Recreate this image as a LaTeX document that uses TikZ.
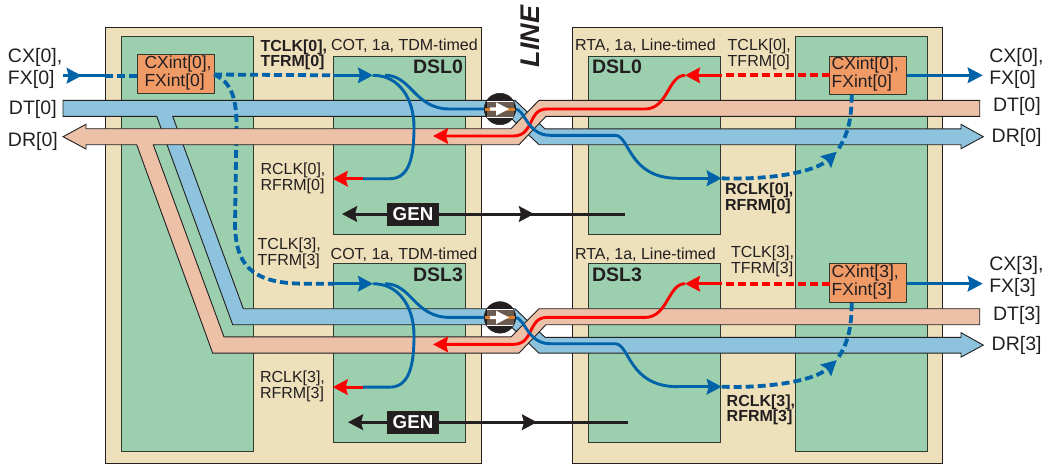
\documentclass[tikz,border=0pt]{standalone}
\usepackage{fontspec}
\setmainfont{Liberation Sans}
\usetikzlibrary{arrows.meta}
\definecolor{tanc}{HTML}{EEE0BA}
\definecolor{greenc}{HTML}{9BCFAE}
\definecolor{bluec}{HTML}{8DC3DC}
\definecolor{salmonc}{HTML}{EDC1A8}
\definecolor{orangec}{HTML}{F09A66}
\definecolor{wireb}{HTML}{0062A8}
\definecolor{inkc}{HTML}{231F20}
\definecolor{edgec}{HTML}{2F3A30}
\definecolor{hubband}{HTML}{6A5A50}
\definecolor{hubline}{HTML}{D97F2B}
\tikzset{
  x=1pt,y=-1pt,
  panel/.style={draw=inkc,line width=1pt,fill=tanc,inner sep=0pt,outer sep=0pt},
  greenbox/.style={draw=edgec,line width=0.9pt,fill=greenc,inner sep=0pt,outer sep=0pt},
  cxbox/.style={draw=edgec,line width=1pt,fill=orangec,inner sep=0pt,outer sep=0pt,minimum width=77pt,minimum height=38.5pt},
  genbox/.style={fill=inkc,text=white,inner sep=0pt,outer sep=0pt,minimum width=52pt,minimum height=23pt,font=\fontsize{18.7}{20}\selectfont\bfseries},
  band/.style={draw=inkc,line width=0.9pt,line join=miter},
  tipb/.tip={Stealth[length=15pt,width=15.5pt,inset=2pt]},
  wireblue/.style={draw=wireb,line width=2.9pt},
  wirered/.style={draw=red,line width=2.9pt},
  wireblack/.style={draw=inkc,line width=3pt},
  dashblue/.style={wireblue,line width=3.8pt,dash pattern=on 8pt off 4pt},
  dashred/.style={wirered,line width=4pt,dash pattern=on 8pt off 4pt},
  lab/.style={text=inkc,inner sep=0pt,outer sep=0pt,align=left,anchor=west},
  labL/.style={lab,font=\fontsize{19.5}{22}\selectfont},
  labM/.style={lab,font=\fontsize{17.5}{18}\selectfont},
  labS/.style={lab,font=\fontsize{16}{16}\selectfont},
  labB/.style={lab,font=\fontsize{16}{15.5}\selectfont\bfseries},
  dsl/.style={lab,font=\fontsize{19.5}{20}\selectfont\bfseries},
  hub/.style={circle,fill=inkc,draw=inkc,line width=0.5pt,minimum size=31.5pt,inner sep=0pt,outer sep=0pt},
}
\newcommand{\linkrow}[2]{%
\begin{scope}[shift={(0,#1)}]
  \coordinate (tx#2) at (373,75.3);
  \coordinate (ta#2) at (333,75.3);
  \coordinate (rr#2) at (363,178.7);
  \coordinate (rt#2) at (332.7,178.7);
  \coordinate (hubc#2) at (500,109);
  \coordinate (lr#2) at (433,136);
  \coordinate (rx#2) at (685,75.3);
  \coordinate (rd#2) at (722,75.3);
  \coordinate (ck#2) at (721.7,178.3);
  \coordinate (mg#2) at (836.7,151.7);
  \coordinate (cb#2) at (851.7,94.7);
  % red wires
  \draw[wirered,-{tipb}] (rx#2) .. controls (668,75.3) and (668,109) .. (645,109) -- (547,109)
     .. controls (527,109) and (535,136) .. (513,136) -- (lr#2);
  \draw[wirered,-{tipb}] (rd#2) -- (rx#2);
  \draw[dashred] (cxR#2.west |- rd#2) -- (rd#2);
  \draw[wirered,-{tipb}] (rr#2) -- (rt#2);
  % blue wires
  \draw[wireblue,-{tipb}] (ta#2) -- (tx#2);
  \draw[wireblue] (tx#2) ++(12,0) .. controls (412,75.3) and (414,109) .. (450,109) -- (hubc#2);
  \draw[wireblue] (tx#2) .. controls (400,75.3) and (414,100) .. (414,127) .. controls (414,155) and (410,178.7) .. (390,178.7) -- (rr#2);
  \draw[wireblue] (hubc#2) -- (515,109) .. controls (525,109) and (527,135.3) .. (550,135.3) -- (615,135.3)
     .. controls (630,135.3) and (628,178.3) .. (678,178.3);
  \draw[wireblue,-{tipb}] (678,178.3) -- (ck#2);
  \draw[dashblue,-{tipb}] (ck#2) .. controls (770,180) and (815,172) .. (mg#2);
  \draw[dashblue] (cb#2) .. controls (851.5,120) and (848,135) .. (mg#2);
  \draw[wireblue,-{tipb}] (cxR#2.east |- tx#2) -- (982.7,75.3);
  % hub
  \node[hub] (hub#2) at (hubc#2) {};
  \fill[hubband] (486.5,101) rectangle (513.5,117);
  \draw[white,line width=0.7pt] (487,101) -- (513,101) (487,117) -- (513,117);
  \draw[draw=hubline,line width=3pt] (485,109) -- (515,109);
  \fill[white] (490,107.4) -- (496,107.4) -- (496,102.3) -- (509,109) -- (496,115.7) -- (496,110.6) -- (490,110.6) -- cycle;
\end{scope}}
\begin{document}
\begin{tikzpicture}
\useasboundingbox (0,0) rectangle (1049,464);
% panels
\node[panel,minimum width=376pt,minimum height=436pt] (outerL) at (293,245) {};
\node[panel,minimum width=369.6pt,minimum height=436pt] (outerR) at (757.5,245) {};
\node[greenbox,minimum width=132pt,minimum height=415pt] (greenL) at (187.5,243.5) {};
\node[greenbox,minimum width=132.3pt,minimum height=415pt] (greenR) at (861.15,243.5) {};
\node[greenbox,minimum width=132pt,minimum height=177.5pt] (dslL0) at (399,145.25) {};
\node[greenbox,minimum width=132pt,minimum height=178.7pt] (dslL3) at (399,352.65) {};
\node[greenbox,minimum width=132pt,minimum height=177.5pt] (dslR0) at (654.3,145.25) {};
\node[greenbox,minimum width=132pt,minimum height=178.7pt] (dslR3) at (654.3,352.65) {};
% blue bus
\draw[band,fill=bluec] (63,100.3) -- (515,100.3) -- (545,128.9) -- (961,128.9) -- (961,124.3) -- (983.3,136.7) -- (961,148.7) -- (961,144.7) -- (539,144.7) -- (509,116.3)
  -- (172.7,116.3) -- (243.3,308.7) -- (515,308.7) -- (545,337.3) -- (961,337.3) -- (961,332.7) -- (983.3,345.1) -- (961,357.1) -- (961,353.1) -- (539,353.1) -- (509,324.7)
  -- (232.7,324.7) -- (156.7,116.3) -- (63,116.3) -- cycle;
% CX nodes
\node[cxbox] (cxL0) at (175.5,73.85) {};
\node[cxbox] (cxR0) at (868,75.35) {};
\node[cxbox] (cxR3) at (868,283) {};
% dashed branch under the salmon bus
\coordinate (ta3) at (333,283.7);
\coordinate (cxo) at (214,74.5);
\draw[dashblue] (cxo) .. controls (232,82) and (236.5,100) .. (236.5,125) -- (235,225) .. controls (236,262) and (248,283.7) .. (305,283.7) -- (ta3);
% salmon bus
\draw[band,fill=salmonc] (63,136.7) -- (86,124.3) -- (86,128.7) -- (511,128.7) -- (539,100.3) -- (979.7,100.3) -- (979.7,116.3) -- (546,116.3) -- (519,144.7)
  -- (153.3,144.7) -- (224,336.9) -- (511,336.9) -- (539,308.7) -- (979.7,308.7) -- (979.7,324.7) -- (546,324.7) -- (519,353.1)
  -- (212.7,353.1) -- (136.7,144.7) -- (86,144.7) -- (86,149) -- cycle;
% CX[0] input and TCLK[0]
\coordinate (cxin) at (63,75.7);
\coordinate (cxsol) at (105,75.7);
\coordinate (cxtip) at (81.7,75.7);
\draw[wireblue] (cxin) -- (cxsol);
\draw[wireblue,-{tipb}] (cxin) -- (cxtip);
\draw[dashblue] (cxsol) -- (cxL0.west |- cxsol);
\draw[dashblue] (cxo) -- (333,75.3);
% row wires
\linkrow{0}{0}
\linkrow{208.4}{3}
% GEN
\node[genbox] (gen0) at (413,214) {GEN};
\node[genbox] (gen3) at (413,422.2) {GEN};
\coordinate (g0l) at (342,214); \coordinate (g0r) at (625,214); \coordinate (g0m) at (534,214);
\coordinate (g3l) at (348,422.2); \coordinate (g3r) at (628,422.2); \coordinate (g3m) at (537,422.2);
\draw[wireblack,-{tipb}] (gen0.west) -- (g0l);
\draw[wireblack] (gen0.east) -- (g0r);
\draw[wireblack,-{tipb}] (gen0.east) -- (g0m);
\draw[wireblack,-{tipb}] (gen3.west) -- (g3l);
\draw[wireblack] (gen3.east) -- (g3r);
\draw[wireblack,-{tipb}] (gen3.east) -- (g3m);
% labels
\node[labL] (tCXL) at (8,68) {CX[0],\\FX[0]};
\node[labL] (tDTL) at (9,109) {DT[0]};
\node[labL] (tDRL) at (8,141) {DR[0]};
\node[labL] (tCXR0) at (989.3,68) {CX[0],\\FX[0]};
\node[labL] (tDTR0) at (993,106) {DT[0]};
\node[labL] (tDRR0) at (991.7,137) {DR[0]};
\node[labL] (tCXR3) at (989.3,276) {CX[3],\\FX[3]};
\node[labL] (tDTR3) at (993,315) {DT[3]};
\node[labL] (tDRR3) at (991.7,345) {DR[3]};
\node[labM] (tCxiL) at (144.5,72.5) {CXint[0],\\FXint[0]};
\node[labM] (tCxiR0) at (831.7,73.5) {CXint[0],\\FXint[0]};
\node[labM] (tCxiR3) at (831.7,282) {CXint[3],\\FXint[3]};
\node[labB] (tTCLKL0) at (260.5,55) {TCLK[0],\\TFRM[0]};
\node[labS] (tCOT0) at (331,46) {COT, 1a, TDM-timed};
\node[labS] (tCOT3) at (330.7,255) {COT, 1a, TDM-timed};
\node[labS] (tRTA0) at (575,46) {RTA, 1a, Line-timed};
\node[labS] (tRTA3) at (575,255) {RTA, 1a, Line-timed};
\node[labS] (tRCLKL0) at (260.5,178) {RCLK[0],\\RFRM[0]};
\node[labS] (tTCLKL3) at (257.7,253.5) {TCLK[3],\\TFRM[3]};
\node[labS] (tRCLKL3) at (260,386.5) {RCLK[3],\\RFRM[3]};
\node[labS] (tTCLKR0) at (727.7,54) {TCLK[0],\\TFRM[0]};
\node[labS] (tTCLKR3) at (731,261.5) {TCLK[3],\\TFRM[3]};
\node[labB] (tRCLKR0) at (725,198.5) {RCLK[0],\\RFRM[0]};
\node[labB] (tRCLKR3) at (726.7,410) {RCLK[3],\\RFRM[3]};
\node[dsl,anchor=east] (tDL0) at (463,66.5) {DSL0};
\node[dsl,anchor=east] (tDL3) at (463,275) {DSL3};
\node[dsl] (tDR0) at (592,66.5) {DSL0};
\node[dsl] (tDR3) at (592,275) {DSL3};
\node[inner sep=0pt,text=inkc,rotate=90,font=\fontsize{27}{27}\selectfont\bfseries\itshape] (tLINE) at (530,36.5) {LINE};
\end{tikzpicture}
\end{document}
